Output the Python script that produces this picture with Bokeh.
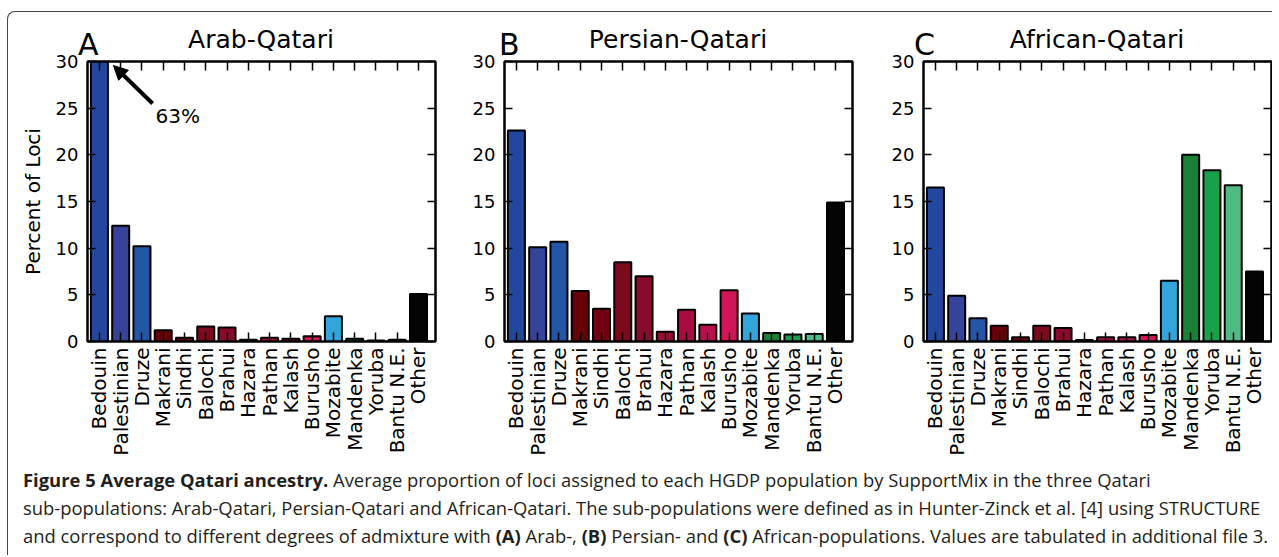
from math import pi
from bokeh.plotting import figure
from bokeh.models import (Range1d, FixedTicker, LinearAxis, Label, Arrow,
                          NormalHead, Div, ColumnDataSource)
from bokeh.layouts import row, column
from bokeh.embed import file_html
from bokeh.resources import INLINE

populations = ["Bedouin", "Palestinian", "Druze", "Makrani", "Sindhi", "Balochi",
               "Brahui", "Hazara", "Pathan", "Kalash", "Burusho", "Mozabite",
               "Mandenka", "Yoruba", "Bantu N.E.", "Other"]
bar_colors = ["#23479E", "#36439A", "#2356A6", "#680008", "#730012", "#7C0A1E",
              "#880A2D", "#990C37", "#A80C42", "#B90F4C", "#D21557", "#32A6DA",
              "#1A8238", "#17A14B", "#4FBC86", "#040404"]
arab_qatari = [63.0, 12.4, 10.2, 1.2, 0.4, 1.6, 1.5, 0.2, 0.4, 0.3, 0.55, 2.7,
               0.3, 0.1, 0.2, 5.1]
persian_qatari = [22.6, 10.1, 10.7, 5.4, 3.5, 8.5, 7.0, 1.05, 3.4, 1.8, 5.5, 3.0,
                  0.9, 0.75, 0.8, 14.9]
african_qatari = [16.5, 4.9, 2.5, 1.7, 0.45, 1.7, 1.45, 0.15, 0.45, 0.45, 0.7, 6.5,
                  20.0, 18.35, 16.75, 7.5]
y_ticks = [0, 5, 10, 15, 20, 25, 30]
panel_titles = ["Arab-Qatari", "Persian-Qatari", "African-Qatari"]
panel_letters = ["A", "B", "C"]
arab_peak_label = "63%"

FONT = "DejaVu Sans"
FRAME_W = 348
HEADER_H = 38
MAIN_TOP = 11
MAIN_H = MAIN_TOP + 280 + 118
TOTAL_W = 1264


def make_panel(values, width, bl, br, ylabel=None):
    p = figure(width=width, height=MAIN_H, x_range=Range1d(-0.56, 15.8),
               y_range=Range1d(0, 30), output_backend="svg",
               toolbar_location=None, min_border_left=bl, min_border_right=br,
               min_border_top=MAIN_TOP, min_border_bottom=118)
    p.grid.visible = False
    p.outline_line_color = "black"
    p.outline_line_width = 2
    p.background_fill_color = "white"
    p.border_fill_color = None

    src = ColumnDataSource(dict(x=list(range(len(populations))), top=values,
                                color=bar_colors))
    p.vbar(x="x", top="top", width=0.8, bottom=0, fill_color="color",
           line_color="black", line_width=2, source=src)

    cat_ticks = list(range(len(populations)))
    xa = p.xaxis[0]
    xa.ticker = FixedTicker(ticks=cat_ticks)
    xa.major_label_overrides = {i: n for i, n in enumerate(populations)}
    xa.major_label_orientation = pi / 2
    xa.major_label_text_font = FONT
    xa.major_label_text_font_size = "20px"
    xa.major_label_text_color = "black"
    xa.major_label_standoff = 6
    xa.major_tick_in = 9
    xa.major_tick_out = 0
    xa.major_tick_line_width = 1.5
    xa.minor_tick_line_color = None
    xa.axis_line_width = 2

    ya = p.yaxis[0]
    ya.ticker = FixedTicker(ticks=y_ticks)
    ya.major_label_text_font = FONT
    ya.major_label_text_font_size = "18px"
    ya.major_label_text_color = "black"
    ya.major_label_standoff = 9
    ya.major_tick_in = 8
    ya.major_tick_out = 0
    ya.major_tick_line_width = 1.5
    ya.minor_tick_line_color = None
    ya.axis_line_width = 2
    if ylabel:
        ya.axis_label = ylabel
        ya.axis_label_text_font = FONT
        ya.axis_label_text_font_size = "20px"
        ya.axis_label_text_font_style = "normal"
        ya.axis_label_text_color = "black"
        ya.axis_label_standoff = 8

    ra = LinearAxis(ticker=FixedTicker(ticks=y_ticks),
                    major_label_overrides={t: "" for t in y_ticks},
                    major_tick_in=8, major_tick_out=0, major_tick_line_width=1.5,
                    minor_tick_line_color=None, axis_line_width=2)
    p.add_layout(ra, "right")
    ta = LinearAxis(ticker=FixedTicker(ticks=cat_ticks),
                    major_label_overrides={t: "" for t in cat_ticks},
                    major_tick_in=9, major_tick_out=0, major_tick_line_width=1.5,
                    minor_tick_line_color=None, axis_line_width=2)
    p.add_layout(ta, "above")
    return p


# panel geometry: (figure width, left border, right border, letter left offset)
geom = [(439, 79, 12, -9), (418, 57, 13, -5), (407, 58, 1, -9)]
values_list = [arab_qatari, persian_qatari, african_qatari]

panels = []
spans = []
x0 = 0
for i, (w, bl, br, loff) in enumerate(geom):
    p = make_panel(values_list[i], w, bl, br,
                   ylabel="Percent of Loci" if i == 0 else None)
    panels.append(p)
    cx = x0 + bl + FRAME_W / 2
    spans.append(
        f'<span style="position:absolute;left:{cx - 200:.1f}px;top:17.6px;width:400px;'
        f'text-align:center;font-size:25px;line-height:20px;white-space:nowrap;">'
        f'{panel_titles[i]}</span>')
    spans.append(
        f'<span style="position:absolute;left:{x0 + bl + loff:.1f}px;top:27.6px;'
        f'font-size:30px;line-height:10px;white-space:nowrap;">{panel_letters[i]}</span>')
    x0 += w

pA = panels[0]
pA.add_layout(Arrow(end=NormalHead(size=14, fill_color="black", line_color="black"),
                    x_start=2.50, y_start=25.5, x_end=0.66, y_end=29.57,
                    line_width=4, line_color="black"))
pA.add_layout(Label(x=2.64, y=24.2, text=arab_peak_label, text_align="left",
                    text_baseline="alphabetic", text_font=FONT,
                    text_font_size="20px", text_color="black"))

header_html = (f'<div style="position:relative;width:{TOTAL_W}px;height:{HEADER_H}px;'
               f"overflow:visible;font-family:'DejaVu Sans',sans-serif;color:black;\">"
               + "".join(spans) + "</div>")
header = Div(text=header_html, width=TOTAL_W, height=HEADER_H, margin=0,
             styles={"overflow": "visible"})

cap_style = ("font-family:'Open Sans',sans-serif;font-size:18.4px;line-height:28px;"
             "color:#231f20;white-space:nowrap;padding:7px 0 0 15px;margin:0;")
caption = (
    f'<div style="{cap_style}">'
    '<b>Figure 5 Average Qatari ancestry.</b> Average proportion of loci assigned to '
    'each HGDP population by SupportMix in the three Qatari<br>'
    'sub-populations: Arab-Qatari, Persian-Qatari and African-Qatari. The '
    'sub-populations were defined as in Hunter-Zinck et al. [4] using STRUCTURE<br>'
    'and correspond to different degrees of admixture with <b>(A)</b> Arab-, '
    '<b>(B)</b> Persian- and <b>(C)</b> African-populations. Values are tabulated in '
    'additional file 3.</div>'
)
div = Div(text=caption, width=TOTAL_W, height=96, margin=0)

layout = column(header, row(*panels), div,
                styles={"border-left": "1px solid #444", "border-top": "1px solid #444",
                        "border-top-left-radius": "8px", "margin-left": "7px",
                        "margin-top": "11px", "background": "white"})

open("out.html", "w").write(file_html(layout, INLINE))
